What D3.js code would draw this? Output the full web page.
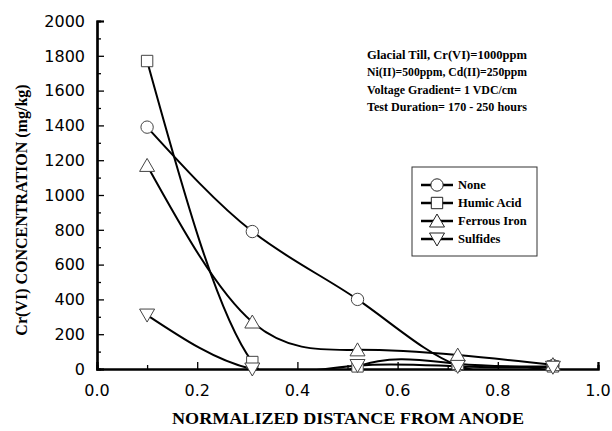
<!DOCTYPE html>
<html>
<head>
<meta charset="utf-8">
<script src="https://cdn.jsdelivr.net/npm/d3@7"></script>
<style>
  body { margin: 0; background: #fff; }
  svg { display: block; }
</style>
</head>
<body>
<div id="chart"></div>
<script>
"use strict";

// Data
const distances = [0.1, 0.31, 0.52, 0.72, 0.91];
const noneValues = [1390, 790, 400, 20, 20];
const humicValues = [1770, 40, 15, 30, 15];
const ferrousValues = [1170, 270, 110, 80, 25];
const sulfideValues = [310, 0, 20, 15, 10];
const seriesNames = ["None", "Humic Acid", "Ferrous Iron", "Sulfides"];
const seriesSymbols = ["circle", "square", "triangleUp", "triangleDown"];
const xTicks = [0, 0.2, 0.4, 0.6, 0.8, 1.0];
const yTicks = [0, 200, 400, 600, 800, 1000, 1200, 1400, 1600, 1800, 2000];
const notes = [
    "Glacial Till, Cr(VI)=1000ppm",
    "Ni(II)=500ppm, Cd(II)=250ppm",
    "Voltage Gradient= 1 VDC/cm",
    "Test Duration= 170 - 250 hours"
];

const width = 612, height = 431;
const margin = { left: 97, right: 14, top: 21, bottom: 62 };

const svg = d3.select("#chart").append("svg")
    .attr("width", width)
    .attr("height", height);

const x = d3.scaleLinear().domain([0, 1]).range([margin.left, width - margin.right]);
const y = d3.scaleLinear().domain([0, 2000]).range([height - margin.bottom, margin.top]);

// Clip lines to the plotting area (spline overshoots below zero)
svg.append("clipPath").attr("id", "plot-clip")
    .append("rect")
    .attr("x", x(0)).attr("y", y(2000))
    .attr("width", x(1) - x(0)).attr("height", y(0) - y(2000));

const serifFont = "'Liberation Serif', 'Times New Roman', serif";
const sansFont = "'DejaVu Sans', Arial, sans-serif";

// Axes: ticks pointing inward
svg.append("g")
    .attr("transform", `translate(${x(0)},0)`)
    .call(d3.axisRight(y).tickValues(yTicks).tickSize(7).tickFormat(""));
svg.append("g")
    .attr("transform", `translate(${x(0)},0)`)
    .call(d3.axisRight(y).tickValues(d3.range(100, 2000, 200)).tickSize(4).tickFormat(""));

svg.append("g")
    .attr("transform", `translate(0,${y(0)})`)
    .call(d3.axisTop(x).tickValues(xTicks).tickSize(7).tickFormat(""));
svg.append("g")
    .attr("transform", `translate(0,${y(0)})`)
    .call(d3.axisTop(x).tickValues(d3.range(0.1, 1, 0.2)).tickSize(4).tickFormat(""));

svg.selectAll(".domain").attr("stroke", "#000").attr("stroke-width", 2.2);
svg.selectAll(".tick line").attr("stroke", "#000").attr("stroke-width", 1.3);

// Tick labels
svg.append("g").selectAll("text")
    .data(yTicks)
    .join("text")
    .attr("x", x(0) - 12)
    .attr("y", d => y(d))
    .attr("dy", "0.36em")
    .attr("text-anchor", "end")
    .style("font-family", sansFont)
    .style("font-size", "16px")
    .text(d => d);

svg.append("g").selectAll("text")
    .data(xTicks)
    .join("text")
    .attr("x", d => x(d))
    .attr("y", y(0) + 27)
    .attr("text-anchor", "middle")
    .style("font-family", sansFont)
    .style("font-size", "16px")
    .text(d => d.toFixed(1));

// Axis titles
svg.append("text")
    .attr("x", 348)
    .attr("y", 424)
    .attr("text-anchor", "middle")
    .attr("textLength", 352)
    .attr("lengthAdjust", "spacingAndGlyphs")
    .style("font-family", serifFont)
    .style("font-weight", "bold")
    .style("font-size", "16px")
    .text("NORMALIZED DISTANCE FROM ANODE");

svg.append("text")
    .attr("transform", "translate(27,210) rotate(-90)")
    .attr("text-anchor", "middle")
    .style("font-family", serifFont)
    .style("font-weight", "bold")
    .style("font-size", "16px")
    .text("Cr(VI) CONCENTRATION (mg/kg)");

// Series
const series = [noneValues, humicValues, ferrousValues, sulfideValues].map((vals, i) => ({
    name: seriesNames[i],
    symbol: seriesSymbols[i],
    points: vals.map((v, j) => ({ x: distances[j], y: v }))
}));

const line = d3.line()
    .x(d => x(d.x))
    .y(d => y(d.y))
    .curve(d3.curveNatural);

svg.append("g")
    .attr("clip-path", "url(#plot-clip)")
    .selectAll("path")
    .data(series)
    .join("path")
    .attr("d", d => line(d.points))
    .attr("fill", "none")
    .attr("stroke", "#000")
    .attr("stroke-width", 2);

function markerPath(symbol) {
    if (symbol === "circle") return d3.symbol(d3.symbolCircle, 120)();
    if (symbol === "square") return d3.symbol(d3.symbolSquare, 130)();
    if (symbol === "triangleUp") return "M0,-7L7.5,6L-7.5,6Z";
    return "M0,7L7.5,-6L-7.5,-6Z";
}

series.forEach(s => {
    svg.append("g").selectAll("path")
        .data(s.points)
        .join("path")
        .attr("transform", d => `translate(${x(d.x)},${y(d.y)})`)
        .attr("d", markerPath(s.symbol))
        .attr("fill", "#fff")
        .attr("stroke", "#444")
        .attr("stroke-width", 1);
});

// Notes
svg.append("g").selectAll("text")
    .data(notes)
    .join("text")
    .attr("x", 367)
    .attr("y", (d, i) => 59 + i * 17.3)
    .attr("textLength", (d, i) => [160, 160, 150, 160][i])
    .attr("lengthAdjust", "spacingAndGlyphs")
    .style("font-family", serifFont)
    .style("font-weight", "bold")
    .style("font-size", "11.5px")
    .text(d => d);

// Legend
const legend = svg.append("g");
legend.append("rect")
    .attr("x", 412).attr("y", 167)
    .attr("width", 125).attr("height", 89)
    .attr("fill", "#fff")
    .attr("stroke", "#333")
    .attr("stroke-width", 1);

const legendItems = legend.selectAll("g")
    .data(series)
    .join("g")
    .attr("transform", (d, i) => `translate(437,${185 + i * 18})`);

legendItems.append("line")
    .attr("x1", -16).attr("x2", 16)
    .attr("stroke", "#000")
    .attr("stroke-width", 2.5);

legendItems.append("path")
    .attr("d", d => markerPath(d.symbol))
    .attr("fill", "#fff")
    .attr("stroke", "#222")
    .attr("stroke-width", 1);

legendItems.append("text")
    .attr("x", 21)
    .attr("dy", "0.35em")
    .style("font-family", serifFont)
    .style("font-weight", "bold")
    .style("font-size", "12.5px")
    .text(d => d.name);
</script>
</body>
</html>
